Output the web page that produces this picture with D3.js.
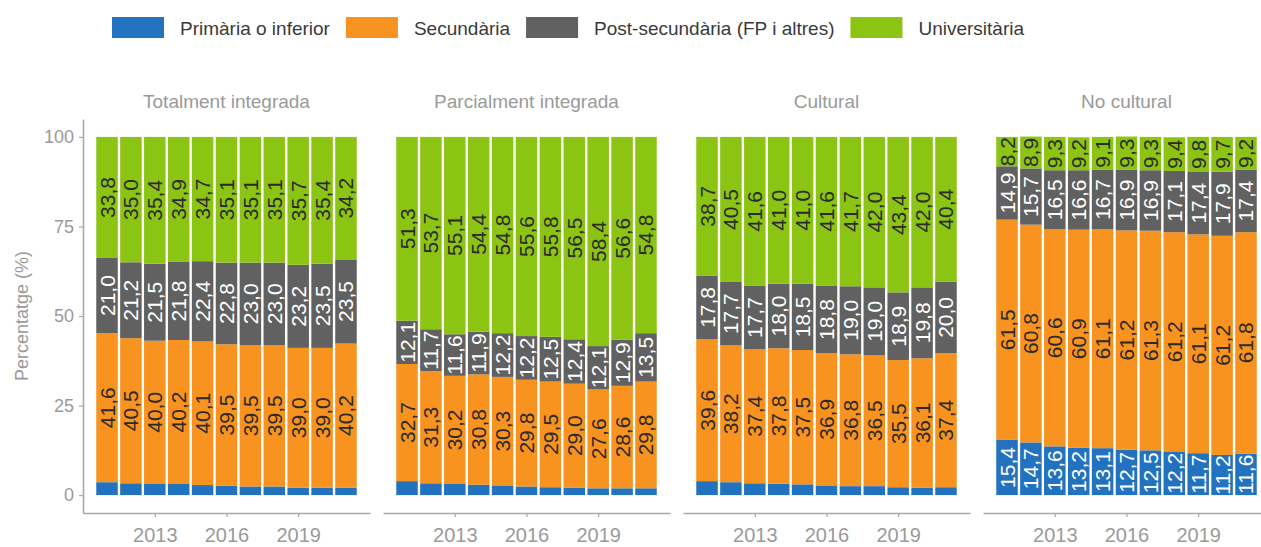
<!DOCTYPE html>
<html>
<head>
<meta charset="utf-8">
<script src="https://cdn.jsdelivr.net/npm/d3@7"></script>
<style>
  html, body { margin: 0; padding: 0; background: #ffffff; }
  svg { display: block; font-family: "Liberation Sans", Arial, sans-serif; }
</style>
</head>
<body>
<svg id="chart" width="1261" height="547"></svg>
<script>
// ---------------- DATA ----------------
const facets = ["Totalment integrada", "Parcialment integrada", "Cultural", "No cultural"];
const years = [2011, 2012, 2013, 2014, 2015, 2016, 2017, 2018, 2019, 2020, 2021];
const xTicks = [2013, 2016, 2019];
const yTicks = [0, 25, 50, 75, 100];
const levels = ["Primària o inferior", "Secundària", "Post-secundària (FP i altres)", "Universitària"];
const levelColors = ["#2372c0", "#f7931e", "#616161", "#8cc414"];
const labelColors = ["#ffffff", "#2b2b2b", "#ffffff", "#2b2b2b"];

// one row per facet, one value per year
const primaria = [
  [3.6, 3.3, 3.1, 3.1, 2.8, 2.6, 2.4, 2.4, 2.1, 2.1, 2.1],
  [3.9, 3.3, 3.1, 2.9, 2.7, 2.4, 2.2, 2.1, 1.9, 1.9, 1.9],
  [3.9, 3.6, 3.3, 3.2, 3.0, 2.7, 2.5, 2.5, 2.2, 2.1, 2.2],
  [15.4, 14.7, 13.6, 13.2, 13.1, 12.7, 12.5, 12.2, 11.7, 11.2, 11.6]
];
const secundaria = [
  [41.6, 40.5, 40.0, 40.2, 40.1, 39.5, 39.5, 39.5, 39.0, 39.0, 40.2],
  [32.7, 31.3, 30.2, 30.8, 30.3, 29.8, 29.5, 29.0, 27.6, 28.6, 29.8],
  [39.6, 38.2, 37.4, 37.8, 37.5, 36.9, 36.8, 36.5, 35.5, 36.1, 37.4],
  [61.5, 60.8, 60.6, 60.9, 61.1, 61.2, 61.3, 61.2, 61.1, 61.2, 61.8]
];
const postsecundaria = [
  [21.0, 21.2, 21.5, 21.8, 22.4, 22.8, 23.0, 23.0, 23.2, 23.5, 23.5],
  [12.1, 11.7, 11.6, 11.9, 12.2, 12.2, 12.5, 12.4, 12.1, 12.9, 13.5],
  [17.8, 17.7, 17.7, 18.0, 18.5, 18.8, 19.0, 19.0, 18.9, 19.8, 20.0],
  [14.9, 15.7, 16.5, 16.6, 16.7, 16.9, 16.9, 17.1, 17.4, 17.9, 17.4]
];
const universitaria = [
  [33.8, 35.0, 35.4, 34.9, 34.7, 35.1, 35.1, 35.1, 35.7, 35.4, 34.2],
  [51.3, 53.7, 55.1, 54.4, 54.8, 55.6, 55.8, 56.5, 58.4, 56.6, 54.8],
  [38.7, 40.5, 41.6, 41.0, 41.0, 41.6, 41.7, 42.0, 43.4, 42.0, 40.4],
  [8.2, 8.9, 9.3, 9.2, 9.1, 9.3, 9.3, 9.4, 9.8, 9.7, 9.2]
];
const seriesByLevel = [primaria, secundaria, postsecundaria, universitaria];
const yTitle = "Percentatge (%)";

// ---------------- LAYOUT ----------------
const svg = d3.select("#chart");
const panelLeft0 = 83, panelStep = 300, panelWidth = 287;
const yTop = 119, yBottom = 513;
const barWidthUnits = 0.9;
const labelThreshold = 5;

const y = d3.scaleLinear().domain([-5, 105]).range([yBottom, yTop]);
const fmt = v => d3.format(".1f")(v).replace(".", ",");

const axisColor = "#a8a8a8";
const textGray = "#9a9a9a";

facets.forEach((facet, fi) => {
  const left = panelLeft0 + fi * panelStep;
  const x = d3.scaleLinear().domain([2009.995, 2022.005]).range([left, left + panelWidth]);
  const bw = x(2011 + barWidthUnits) - x(2011);
  const g = svg.append("g");

  // build stacked table
  const rows = years.map((yr, i) => {
    const o = { year: yr };
    levels.forEach((lv, li) => { o[lv] = seriesByLevel[li][fi][i]; });
    return o;
  });
  const stack = d3.stack().keys(levels)(rows);

  stack.forEach((layer, li) => {
    const lg = g.append("g");
    lg.selectAll("rect").data(layer).join("rect")
      .attr("x", d => x(d.data.year) - bw / 2)
      .attr("width", bw)
      .attr("y", d => y(d[1]))
      .attr("height", d => y(d[0]) - y(d[1]))
      .attr("fill", levelColors[li]);
    lg.selectAll("text").data(layer.filter(d => d[1] - d[0] >= labelThreshold)).join("text")
      .attr("transform", d => `translate(${x(d.data.year)},${y((d[0] + d[1]) / 2)}) rotate(-90)`)
      .attr("text-anchor", "middle")
      .attr("dominant-baseline", "central")
      .attr("font-size", 21)
      .attr("fill", labelColors[li])
      .text(d => fmt(d[1] - d[0]));
  });

  // facet title
  svg.append("text")
    .attr("x", left + panelWidth / 2)
    .attr("y", 101)
    .attr("text-anchor", "middle")
    .attr("dominant-baseline", "central")
    .attr("font-size", 19)
    .attr("fill", textGray)
    .text(facet);

  // x axis
  const xa = svg.append("g").attr("transform", `translate(0,${yBottom})`)
    .call(d3.axisBottom(x).tickValues(xTicks).tickFormat(d3.format("d")).tickSizeOuter(0).tickSizeInner(4).tickPadding(11));
  xa.select(".domain").attr("stroke", axisColor).attr("stroke-width", 1.6);
  xa.selectAll(".tick line").attr("stroke", axisColor).attr("stroke-width", 1.2);
  xa.selectAll(".tick text").attr("fill", textGray).attr("font-size", 20).attr("font-family", "Liberation Sans, Arial, sans-serif");

  if (fi === 0) {
    const ya = svg.append("g").attr("transform", `translate(${left},0)`)
      .call(d3.axisLeft(y).tickValues(yTicks).tickSizeOuter(0).tickSizeInner(4).tickPadding(5));
    ya.select(".domain").attr("stroke", axisColor).attr("stroke-width", 1.6);
    ya.selectAll(".tick line").attr("stroke", axisColor).attr("stroke-width", 1.2);
    ya.selectAll(".tick text").attr("fill", textGray).attr("font-size", 18).attr("font-family", "Liberation Sans, Arial, sans-serif");
  }
});

// y axis title
svg.append("text")
  .attr("transform", `translate(22,${(yTop + yBottom) / 2}) rotate(-90)`)
  .attr("text-anchor", "middle")
  .attr("dominant-baseline", "central")
  .attr("font-size", 18)
  .attr("fill", textGray)
  .text(yTitle);

// legend
let lx = 112;
const legend = svg.append("g");
levels.forEach((lv, li) => {
  legend.append("rect").attr("x", lx).attr("y", 17).attr("width", 52).attr("height", 21).attr("fill", levelColors[li]);
  lx += 52 + 16;
  const t = legend.append("text").attr("x", lx).attr("y", 28)
    .attr("dominant-baseline", "central")
    .attr("font-size", 19)
    .attr("fill", "#3a3a3a")
    .text(lv);
  lx += t.node().getComputedTextLength() + 16;
});
</script>
</body>
</html>
